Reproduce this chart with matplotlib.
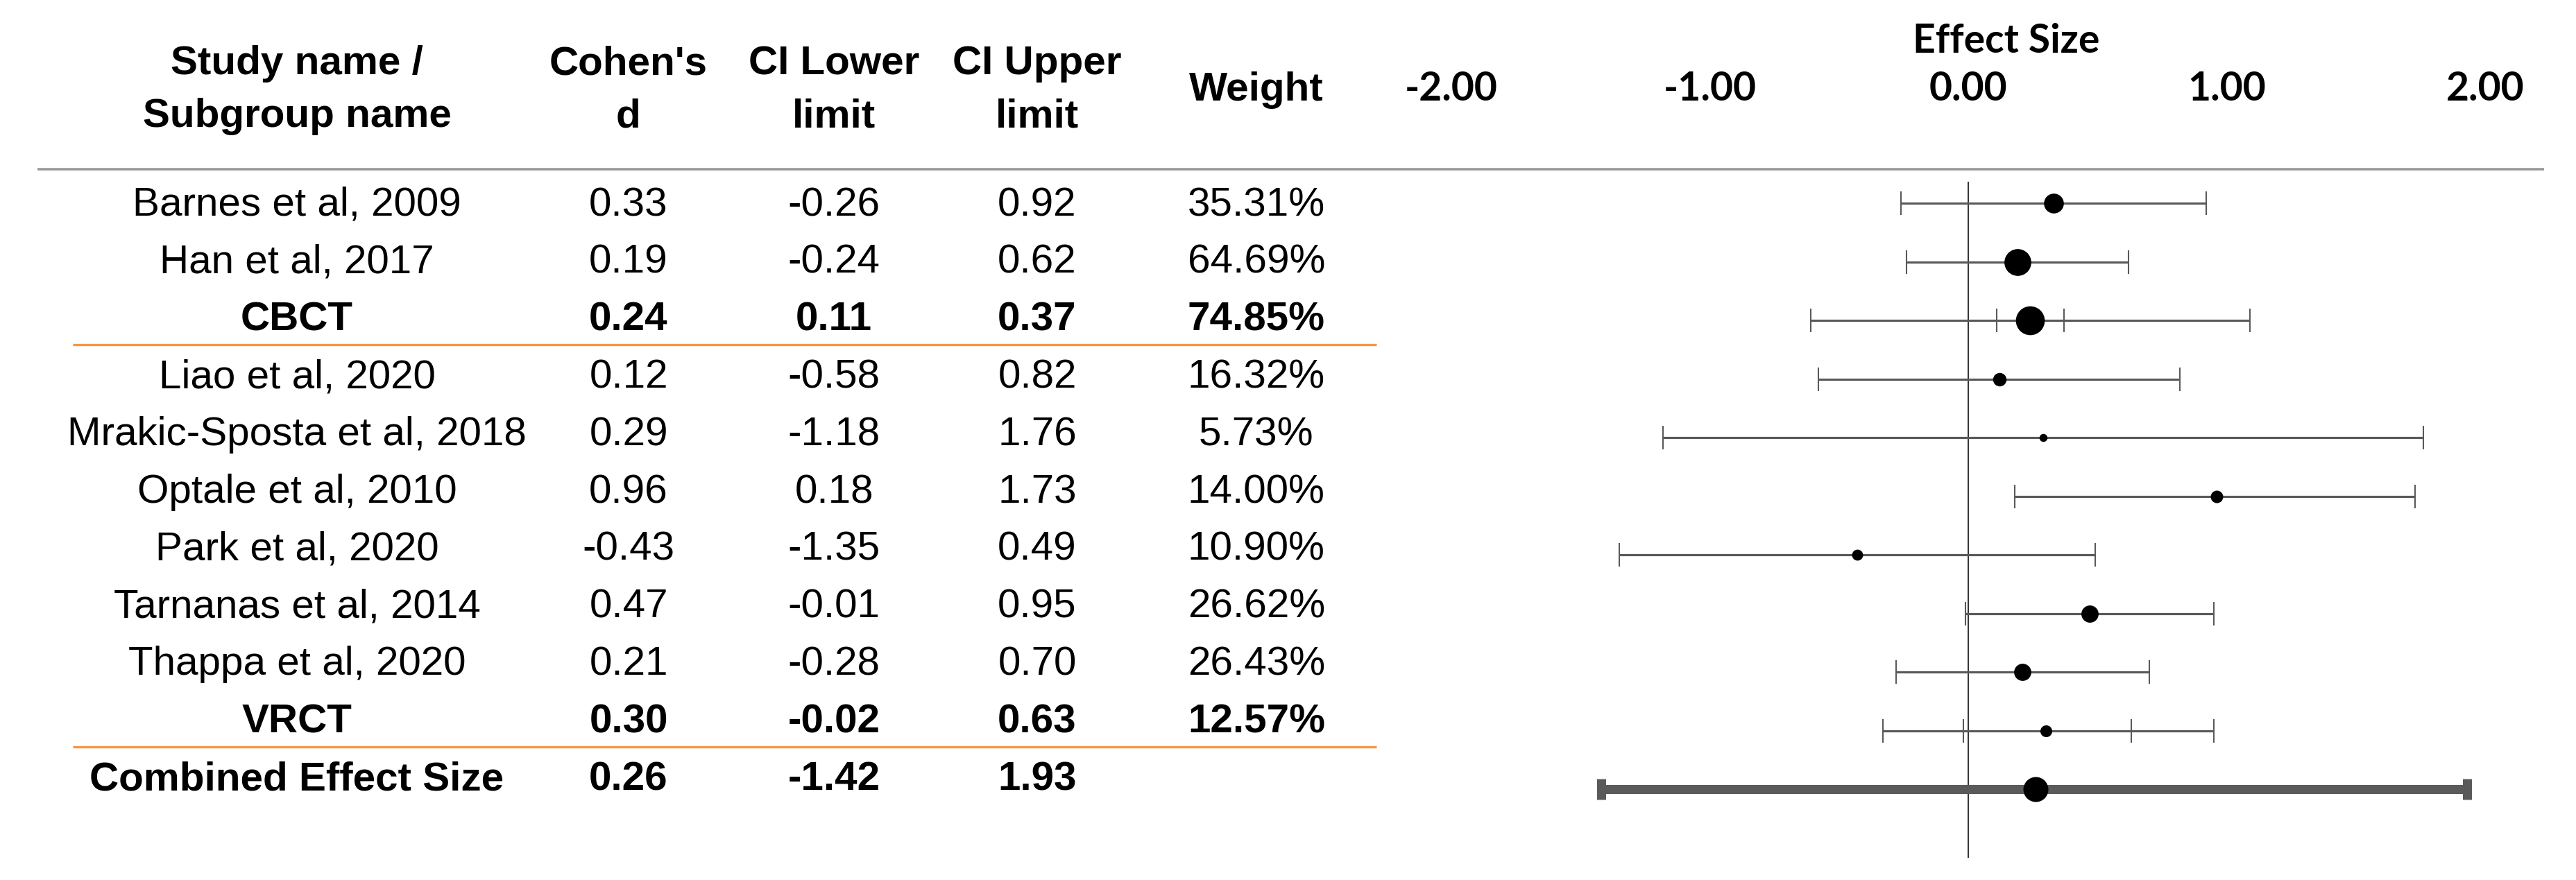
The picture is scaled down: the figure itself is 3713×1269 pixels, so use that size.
import matplotlib
matplotlib.use('Agg')
import matplotlib.pyplot as plt
import numpy as np

plt.rcParams['font.family'] = ['Liberation Sans', 'DejaVu Sans']

# table / forest data
names = ['Barnes et al, 2009', 'Han et al, 2017', 'CBCT', 'Liao et al, 2020',
         'Mrakic-Sposta et al, 2018', 'Optale et al, 2010', 'Park et al, 2020',
         'Tarnanas et al, 2014', 'Thappa et al, 2020', 'VRCT', 'Combined Effect Size']
kinds = ['study', 'study', 'subgroup', 'study', 'study', 'study', 'study',
         'study', 'study', 'subgroup', 'combined']
cohens_d = [0.33, 0.19, 0.24, 0.12, 0.29, 0.96, -0.43, 0.47, 0.21, 0.30, 0.26]
ci_lower = [-0.26, -0.24, 0.11, -0.58, -1.18, 0.18, -1.35, -0.01, -0.28, -0.02, -1.42]
ci_upper = [0.92, 0.62, 0.37, 0.82, 1.76, 1.73, 0.49, 0.95, 0.70, 0.63, 1.93]
weights = [35.31, 64.69, 74.85, 16.32, 5.73, 14.00, 10.90, 26.62, 26.43, 12.57, None]
# wider whiskers drawn for the subgroup rows
subgroup_outer_lower = {'CBCT': -0.61, 'VRCT': -0.33}
subgroup_outer_upper = {'CBCT': 1.09, 'VRCT': 0.95}
x_ticks = [-2.0, -1.0, 0.0, 1.0, 2.0]

W, H = 3713, 1269
fig = plt.figure(figsize=(W / 100, H / 100), dpi=100)

# table part, in pixel coordinates
ax_t = fig.add_axes([0, 0, 1, 1])
ax_t.set_xlim(0, W)
ax_t.set_ylim(H, 0)
ax_t.axis('off')

fs = 42
col_x = [428, 906, 1202, 1495, 1811]
ax_t.text(col_x[0], 107, 'Study name /', ha='center', va='baseline', fontsize=fs, fontweight='bold')
ax_t.text(col_x[0], 183, 'Subgroup name', ha='center', va='baseline', fontsize=fs, fontweight='bold')
ax_t.text(col_x[1], 107, "Cohen's", ha='center', va='baseline', fontsize=fs, fontweight='bold')
ax_t.text(col_x[1], 183, 'd', ha='center', va='baseline', fontsize=fs, fontweight='bold')
ax_t.text(col_x[2], 107, 'CI Lower', ha='center', va='baseline', fontsize=fs, fontweight='bold')
ax_t.text(col_x[2], 183, 'limit', ha='center', va='baseline', fontsize=fs, fontweight='bold')
ax_t.text(col_x[3], 107, 'CI Upper', ha='center', va='baseline', fontsize=fs, fontweight='bold')
ax_t.text(col_x[3], 183, 'limit', ha='center', va='baseline', fontsize=fs, fontweight='bold')
ax_t.text(col_x[4], 145, 'Weight', ha='center', va='baseline', fontsize=fs, fontweight='bold')

ax_t.plot([54, 3667], [244, 244], color='#9a9a9a', lw=2.6, solid_capstyle='butt')

row_y0, row_step = 290, 82.8
for i, name in enumerate(names):
    yb = row_y0 + row_step * i + 21
    fw = 'normal' if kinds[i] == 'study' else 'bold'
    vals = [name, f'{cohens_d[i]:.2f}', f'{ci_lower[i]:.2f}', f'{ci_upper[i]:.2f}',
            '' if weights[i] is None else f'{weights[i]:.2f}%']
    for x, v in zip(col_x, vals):
        ax_t.text(x, yb, v, ha='center', va='baseline', fontsize=fs, fontweight=fw)
    if kinds[i] == 'subgroup':
        ly = row_y0 + row_step * (i + 0.5)
        ax_t.plot([105, 1984], [ly, ly], color='#f79646', lw=2.4, solid_capstyle='butt')

# forest plot part
zero_px, unit_px = 2837, 372.5
f_left, f_top = 2000, 170
r0, r_step = 293, 84.5
ax_f = fig.add_axes([f_left / W, 0, (W - f_left) / W, (H - f_top) / H])
ax_f.patch.set_visible(False)
ax_f.set_xlim((f_left - zero_px) / unit_px, (W - zero_px) / unit_px)
ax_f.set_ylim((H - r0) / r_step, (f_top - r0) / r_step)
for s in ax_f.spines.values():
    s.set_visible(False)
ax_f.set_yticks([])
ax_f.xaxis.tick_top()
ax_f.set_xticks(x_ticks)
ax_f.set_xticklabels([f'{v:.2f}' for v in x_ticks], family='Lato', fontweight='bold', fontsize=41)
ax_f.tick_params(axis='x', length=0, pad=11)
ax_f.text(0.146, (60 - r0) / r_step, 'Effect Size', ha='center', va='center',
          family='Lato', fontweight='bold', fontsize=41)

ax_f.vlines(0, -0.37, 11.17, color='#303030', lw=1.4, zorder=1)

rows = np.arange(len(names))
d = np.array(cohens_d)
lo = np.array(ci_lower)
hi = np.array(ci_upper)
bar_col = '#5a5a5a'
for i, k in enumerate(kinds):
    if k == 'study':
        ax_f.errorbar(d[i], rows[i], xerr=[[d[i] - lo[i]], [hi[i] - d[i]]], fmt='none',
                      ecolor=bar_col, elinewidth=2.3, capsize=12.5, capthick=1.5, zorder=2)
        ax_f.scatter(d[i], rows[i], s=12 * weights[i], color='black', linewidths=0, zorder=3)
    elif k == 'subgroup':
        olo = subgroup_outer_lower[names[i]]
        ohi = subgroup_outer_upper[names[i]]
        ax_f.errorbar(d[i], rows[i], xerr=[[d[i] - olo], [ohi - d[i]]], fmt='none',
                      ecolor=bar_col, elinewidth=2.3, capsize=12.5, capthick=1.5, zorder=2)
        ax_f.plot([lo[i], hi[i]], [rows[i], rows[i]], ls='none', marker='|', ms=25,
                  mew=1.5, color=bar_col, zorder=2)
        ax_f.scatter(d[i], rows[i], s=12 * weights[i], color='black', linewidths=0, zorder=3)
    else:
        ax_f.errorbar(d[i], rows[i], xerr=[[d[i] - lo[i]], [hi[i] - d[i]]], fmt='none',
                      ecolor=bar_col, elinewidth=9.4, capsize=11, capthick=9.4, zorder=2)
        ax_f.scatter(d[i], rows[i], s=672, color='black', linewidths=0, zorder=3)

plt.savefig('out.png', dpi=100)
